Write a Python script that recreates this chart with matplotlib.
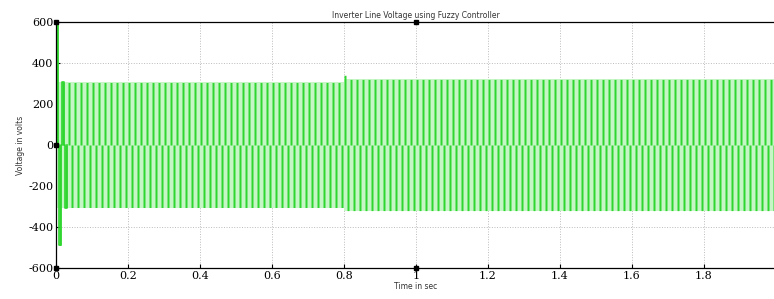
import numpy as np
import matplotlib
matplotlib.use("Agg")
import matplotlib.pyplot as plt

# ---- data ----
freq_hz = 60.0                      # fundamental frequency of the line voltage
t_end = 2.0                         # simulation time (s)
step_time = 0.8                     # load / reference change
amp_before = 305.0                  # pulse height before step (V)
amp_after = 320.0                   # pulse height after step (V)
start_peak_pos = 600.0              # starting transient, positive peak (V)
start_peak_neg = -490.0             # starting transient, negative peak (V)
overshoot_at_step = 340.0           # small overshoot right after step (V)

x_ticks = [0, 0.2, 0.4, 0.6, 0.8, 1.0, 1.2, 1.4, 1.6, 1.8]
x_tick_labels = ["0", "0.2", "0.4", "0.6", "0.8", "1", "1.2", "1.4", "1.6", "1.8"]
y_ticks = [-600, -400, -200, 0, 200, 400, 600]
y_tick_labels = ["-600", "-400", "-200", "0", "200", "400", "600"]
marker_x = [0, 0, 0, 1, 1]
marker_y = [600, 0, -600, 600, -600]

title_text = "Inverter Line Voltage using Fuzzy Controller"
xlabel_text = "Time in sec"
ylabel_text = "Voltage in volts"

# ---- build the quasi-square (120 deg) line-voltage waveform ----
T = 1.0 / freq_hz
n_per = int(np.ceil(t_end / T))
ts, vs = [], []
env_t, env_p, env_n = [], [], []
overshoot_done = False
for k in range(n_per):
    t0 = k * T
    amp = amp_before if t0 < step_time else amp_after
    amp_p = amp
    if t0 >= step_time and not overshoot_done:
        amp_p = overshoot_at_step
        overshoot_done = True
    amp_n = amp
    if k == 0:
        amp_p = start_peak_pos
        amp_n = -start_peak_neg
    e = [t0, t0 + T / 3, t0 + T / 2, t0 + 5 * T / 6, t0 + T]
    ts += [e[0], e[0], e[1], e[1], e[2], e[2], e[3], e[3]]
    vs += [0, amp_p, amp_p, 0, 0, -amp_n, -amp_n, 0]
    env_t += [e[0], e[4]]
    env_p += [amp, amp]
    env_n += [-amp, -amp]
ts.append(n_per * T)
vs.append(0)
ts = np.array(ts)
vs = np.array(vs)

fig = plt.figure(figsize=(7.74, 2.99), dpi=100)
ax = fig.add_axes([56 / 774, 31 / 299, 720 / 774, 246 / 299])
ax.fill_between(env_t, env_n, env_p, color="#c6f5c6", lw=0, zorder=1)
ax.fill_between(ts, 0, vs, color="#2fd62f", lw=0, zorder=2)
ax.plot(ts[:16], vs[:16], color="#2fd62f", lw=1.2, zorder=2)
ax.plot(marker_x, marker_y, ls="none", marker="s", ms=3.5, color="black",
        clip_on=False, zorder=5)
ax.set_xlim(0, 2)
ax.set_ylim(-600, 600)
ax.set_xticks(x_ticks)
ax.set_xticklabels(x_tick_labels, family="DejaVu Serif", fontsize=8)
ax.set_yticks(y_ticks)
ax.set_yticklabels(y_tick_labels, family="DejaVu Serif", fontsize=8)
ax.grid(True, color="#bbbbbb", ls=":", lw=0.7)
ax.set_axisbelow(True)
ax.tick_params(direction="in", length=3, pad=2)
for s in ax.spines.values():
    s.set_linewidth(0.9)
ax.set_title(title_text, fontsize=5.5, pad=3, color="#333333")
ax.set_xlabel(xlabel_text, fontsize=5.5, labelpad=1, color="#333333")
ax.set_ylabel(ylabel_text, fontsize=5.5, labelpad=2, color="#333333")
fig.savefig("out.png", dpi=100)
